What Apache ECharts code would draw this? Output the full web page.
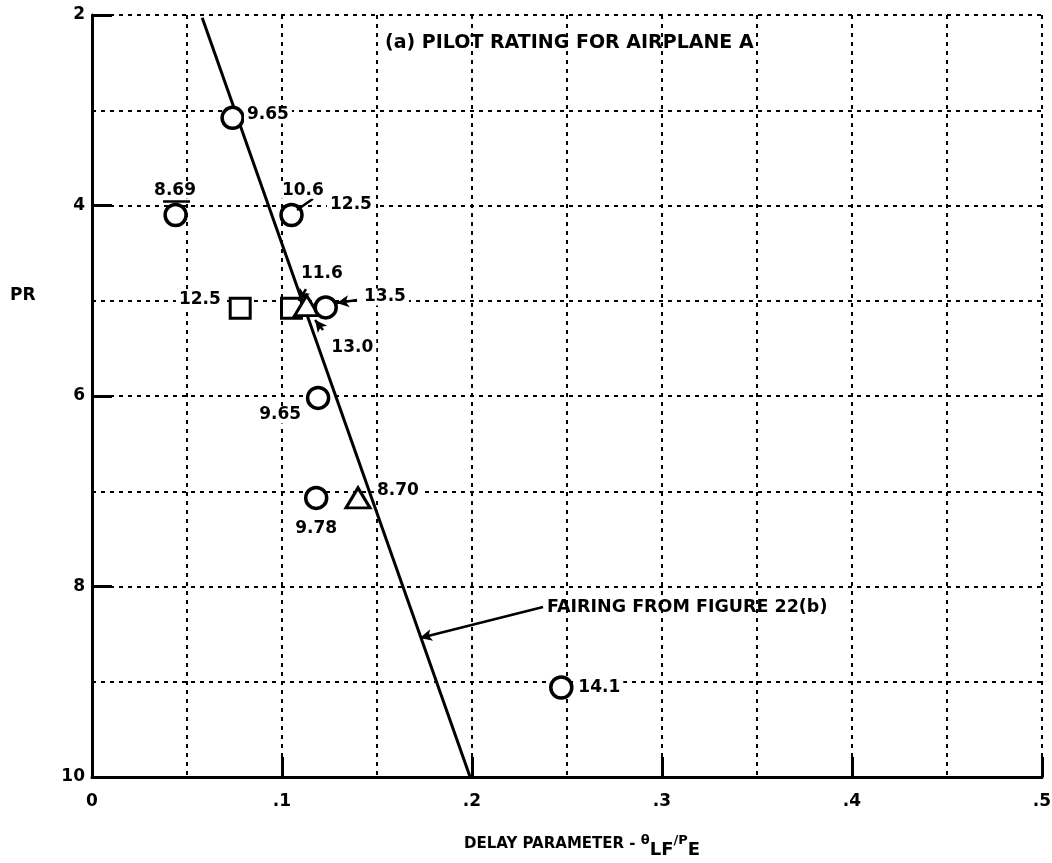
<!DOCTYPE html>
<html>
<head>
<meta charset="utf-8">
<script src="https://cdn.jsdelivr.net/npm/echarts@6/dist/echarts.min.js"></script>
<style>
html,body{margin:0;padding:0;background:#fff;}
#chart{width:1052px;height:863px;}
</style>
</head>
<body>
<div id="chart"></div>
<script>
// ---- Data ----
const circleX = [0.074, 0.044, 0.105, 0.123, 0.119, 0.118, 0.247];
const circleY = [3.08, 4.10, 4.10, 5.07, 6.02, 7.07, 9.06];
const squareX = [0.078, 0.105];
const squareY = [5.08, 5.08];
const triangleX = [0.113, 0.140];
const triangleY = [5.05, 7.07];

const fairingX = [0.058, 0.199];
const fairingY = [2.03, 10];

const noteText = ['9.65', '8.69', '10.6', '12.5', '11.6', '12.5', '13.5', '13.0', '9.65', '9.78', '8.70', '14.1'];
const noteX = [0.0926, 0.0437, 0.111, 0.1363, 0.121, 0.0568, 0.1542, 0.137, 0.099, 0.118, 0.161, 0.267];
const noteY = [3.05, 3.84, 3.84, 3.99, 4.71, 4.99, 4.96, 5.49, 6.20, 7.39, 6.99, 9.06];

// flag segments [x1, y1, x2, y2] without arrowheads
const flagSegments = [
  [0.1079, 4.047, 0.1163, 3.93],
  [0.0374, 3.953, 0.0516, 3.953]
];
// arrow segments [x1, y1, x2, y2] arrowhead at the second point
const arrowSegments = [
  [0.1126, 4.877, 0.1089, 5.003],
  [0.1395, 4.992, 0.1289, 5.024],
  [0.1216, 5.307, 0.1174, 5.202],
  [0.2374, 8.215, 0.1726, 8.540]
];

const fairingText = 'FAIRING FROM FIGURE 22(b)';
const fairingTextX = 0.2395;
const fairingTextY = 8.215;

const xTickLabels = ['0', '.1', '.2', '.3', '.4', '.5'];
const yTickLabels = ['2', '4', '6', '8', '10'];

const titleText = '(a) PILOT RATING FOR AIRPLANE A';
const yName = 'PR';

// ---- Chart ----
const FONT = '"DejaVu Sans", "Liberation Sans", Arial, sans-serif';
const zip = (a, b) => a.map((v, i) => [v, b[i]]);
const dotted = { color: '#000', width: 2, type: [4, 5] };

const chart = echarts.init(document.getElementById('chart'), null, { renderer: 'canvas' });

const option = {
  backgroundColor: '#fff',
  animation: false,
  title: {
    text: titleText,
    left: 380, top: 29,
    textStyle: { fontFamily: FONT, fontWeight: 'bold', fontSize: 19, color: '#000' }
  },
  graphic: [{
    type: 'text', left: 10, top: 287,
    style: { text: yName, font: 'bold 17px ' + FONT, fill: '#000' }
  }],
  grid: { left: 92, right: 10, top: 15, bottom: 86, containLabel: false, outerBoundsMode: 'none' },
  xAxis: {
    type: 'value', min: 0, max: 0.5, interval: 0.1,
    axisLine: { onZero: false, lineStyle: { color: '#000', width: 3 } },
    axisTick: { show: true, inside: true, length: 20, lineStyle: { color: '#000', width: 3 } },
    axisLabel: {
      margin: 16, color: '#000', fontFamily: FONT, fontWeight: 'bold', fontSize: 17,
      formatter: v => xTickLabels[Math.round(v * 10)]
    },
    splitLine: { show: true, lineStyle: dotted },
    minorTick: { show: false, splitNumber: 2 },
    minorSplitLine: { show: true, lineStyle: dotted },
    name: '{a|DELAY PARAMETER - }{t|θ}{s|LF}{t|/P}{s|E}',
    nameLocation: 'middle', nameGap: 52,
    nameTextStyle: {
      padding: [0, 0, 0, 30],
      rich: {
        a: { fontFamily: FONT, fontWeight: 'bold', fontSize: 15, color: '#000' },
        t: { fontFamily: FONT, fontWeight: 'bold', fontSize: 13, color: '#000', padding: [0, 0, 6, 0] },
        s: { fontFamily: FONT, fontWeight: 'bold', fontSize: 18, color: '#000', padding: [12, 0, 0, 0] }
      }
    }
  },
  yAxis: {
    type: 'value', min: 2, max: 10, interval: 2, inverse: true,
    axisLine: { onZero: false, lineStyle: { color: '#000', width: 3 } },
    axisTick: { show: true, inside: true, length: 20, lineStyle: { color: '#000', width: 3 } },
    axisLabel: {
      margin: 7, color: '#000', fontFamily: FONT, fontWeight: 'bold', fontSize: 17,
      formatter: v => yTickLabels[Math.round((v - 2) / 2)]
    },
    splitLine: { show: true, lineStyle: dotted },
    minorTick: { show: false, splitNumber: 2 },
    minorSplitLine: { show: true, lineStyle: dotted }
  },
  series: [
    {
      type: 'line', data: zip(fairingX, fairingY), symbol: 'none', z: 2,
      lineStyle: { color: '#000', width: 3 },
      markLine: {
        silent: true, symbol: ['none', 'none'], label: { show: false },
        lineStyle: { color: '#000', width: 2.5, type: 'solid' },
        data: flagSegments.map(s => [{ coord: [s[0], s[1]] }, { coord: [s[2], s[3]] }])
      }
    },
    {
      type: 'line', data: [], symbol: 'none',
      markLine: {
        silent: true, symbol: ['none', 'arrow'], symbolSize: [9, 12], label: { show: false },
        lineStyle: { color: '#000', width: 2.5, type: 'solid' },
        data: arrowSegments.map(s => [{ coord: [s[0], s[1]] }, { coord: [s[2], s[3]] }])
      }
    },
    {
      type: 'scatter', data: zip(squareX, squareY), symbol: 'rect', symbolSize: 20, z: 3,
      itemStyle: { color: '#fff', borderColor: '#000', borderWidth: 3, opacity: 1 }
    },
    {
      type: 'scatter', data: zip(triangleX, triangleY), symbol: 'triangle', symbolSize: [24, 20], z: 3,
      itemStyle: { color: '#fff', borderColor: '#000', borderWidth: 3, opacity: 1 }
    },
    {
      type: 'scatter', data: zip(circleX, circleY), symbol: 'circle', symbolSize: 21, z: 4,
      itemStyle: { color: '#fff', borderColor: '#000', borderWidth: 3.5, opacity: 1 }
    },
    {
      type: 'scatter', symbolSize: 0, z: 5, silent: true,
      itemStyle: { opacity: 1 },
      data: noteText.map((t, i) => ({ name: t, value: [noteX[i], noteY[i]] })),
      label: {
        show: true, position: 'inside', formatter: p => p.name,
        color: '#000', fontFamily: FONT, fontWeight: 'bold', fontSize: 17,
        backgroundColor: '#fff', padding: [0, 3]
      }
    },
    {
      type: 'scatter', symbolSize: 0, z: 5, silent: true,
      itemStyle: { opacity: 1 },
      data: [{ name: fairingText, value: [fairingTextX, fairingTextY] }],
      label: {
        show: true, position: 'right', distance: 0, formatter: p => p.name,
        color: '#000', fontFamily: FONT, fontWeight: 'bold', fontSize: 17.5
      }
    }
  ]
};
chart.setOption(option);
</script>
</body>
</html>
